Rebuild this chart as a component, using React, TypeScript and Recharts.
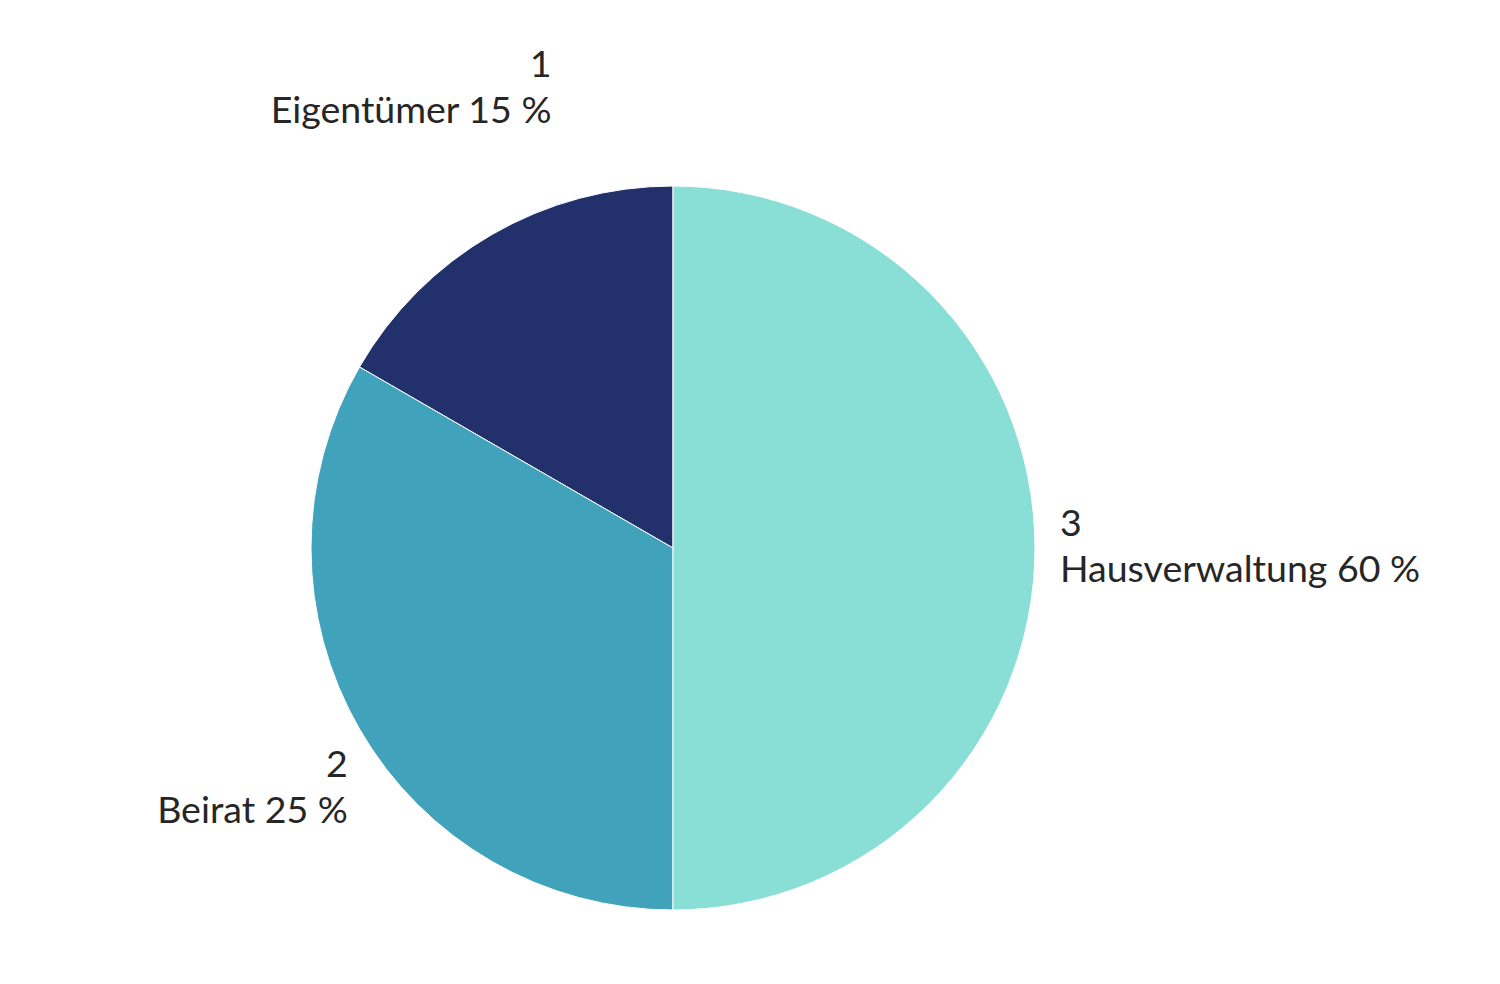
import { PieChart, Pie, Cell } from 'recharts';

const names = ['Eigentümer 15 %', 'Beirat 25 %', 'Hausverwaltung 60 %'];
const values = [1, 2, 3];
const colors = ['#22306b', '#40a3bb', '#89ded6'];

// label nudges relative to the radial anchor point
const labelNudge = [
  { dx: 72, dy: -127 },
  { dx: 10, dy: 44 },
  { dx: 0, dy: -4 }
];

const data = names.map((name, i) => ({ name, value: values[i] }));

const RADIAN = Math.PI / 180;

function renderLabel(props: any) {
  const { cx, cy, midAngle, outerRadius, index, name, value } = props;
  const r = outerRadius + 25;
  const cos = Math.cos(-midAngle * RADIAN);
  const sin = Math.sin(-midAngle * RADIAN);
  const x = cx + r * cos + labelNudge[index].dx;
  const y = cy + r * sin + labelNudge[index].dy;
  const anchor = cos < -0.01 ? 'end' : 'start';
  return (
    <text x={x} y={y} textAnchor={anchor} fill="#262626" fontSize={37.5} fontFamily="Lato, 'Noto Sans', sans-serif">
      <tspan x={x} y={y - 23} dominantBaseline="central">{value}</tspan>
      <tspan x={x} y={y + 23} dominantBaseline="central">{name}</tspan>
    </text>
  );
}

export default function App() {
  return (
    <div style={{ position: 'absolute', left: 0, top: 0, width: 1500, height: 984, background: '#fff' }}>
      <PieChart width={1500} height={984} margin={{ top: 0, right: 0, bottom: 0, left: 0 }}>
        <Pie
          data={data}
          dataKey="value"
          nameKey="name"
          cx={673}
          cy={548}
          outerRadius={362}
          startAngle={90}
          endAngle={450}
          stroke="#ffffff"
          strokeWidth={1}
          labelLine={false}
          label={renderLabel}
          isAnimationActive={false}
        >
          {data.map((entry, index) => <Cell key={`cell-${index}`} fill={colors[index]} />)}
        </Pie>
      </PieChart>
    </div>
  );
}
